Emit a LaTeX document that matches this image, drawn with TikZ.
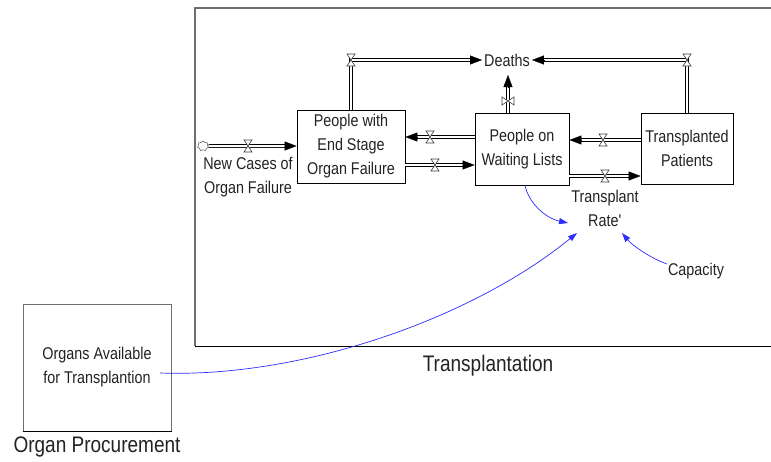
\documentclass[tikz,border=0pt]{standalone}
\usepackage{fontspec}
\setmainfont{Liberation Sans}[FakeStretch=0.845]
\usetikzlibrary{arrows.meta,shapes.symbols,calc}
\definecolor{txt}{RGB}{35,35,35}
\definecolor{lnk}{RGB}{45,45,255}
\definecolor{framec}{RGB}{110,110,110}
\begin{document}
\begin{tikzpicture}[x=1pt,y=-1pt,
  every node/.style={font=\fontsize{17}{24}\selectfont, text=txt, inner sep=0pt, align=center},
  stock/.style={draw=black, line width=0.8pt},
  pipe/.style={draw=black, line width=0.8pt, double=white, double distance=2pt, line join=miter},
  flowtip/.style={-{Triangle[length=12pt,width=9pt]}, line width=0.4pt, draw=black},
  link/.style={draw=lnk, line width=0.7pt, -{Triangle[length=9pt,width=6pt]}},
  bigtext/.style={font=\fontsize{22.5}{26}\selectfont},
  valve/.pic={\draw[draw=gray!50!black, fill=white, line width=0.6pt] (-4,-6) -- (4,-6) -- (-4,6) -- (4,6) -- cycle;}
]
\useasboundingbox (0,0) rectangle (771,461);
\fill[white] (0,0) rectangle (771,461);
% sector frame
\draw[framec, line width=1.2pt] (775,8) -- (195,8) -- (195,346);
\draw[black, line width=1pt] (195,346) -- (775,346);

% stocks and labels
\node[stock, minimum width=108pt, minimum height=73pt] (pw) at (351,146.5) {People with\\End Stage\\Organ Failure};
\node[stock, minimum width=94pt, minimum height=72pt] (wl) at (522,149) {People on\\Waiting Lists};
\node[stock, minimum width=92pt, minimum height=71pt] (tp) at (687,148.5) {Transplanted\\Patients};
\node[inner sep=2pt] (de) at (507,60) {Deaths};
\node[cloud, cloud puffs=7, draw=gray!60!black, fill=white, minimum width=11pt, minimum height=10pt, line width=0.5pt] (cl) at (203,146) {};
\node (nc) at (248,177) {New Cases of\\Organ Failure};
\node (tr) at (605,208.5) {Transplant\\Rate\textquotesingle};
\node (cap) at (696,271) {Capacity};
\node[draw=framec, line width=1pt, minimum width=148pt, minimum height=127pt] (op) at (97,367.5) {Organs Available\\for Transplantion};
\draw[black, line width=1pt] (op.south west) -- (op.south east);
\node[bigtext] (opl) at (97,447) {Organ Procurement};
\node[bigtext] (tpl) at (488,366) {Transplantation};

% flows
% F1 new cases
\coordinate (f1b) at (285,146);
\draw[pipe] (cl.east) -- (f1b);
\draw[flowtip] (f1b) -- (pw.west |- f1b);
\pic at (248,146) {valve};
% F2 pw -> deaths
\coordinate (f2b) at (471,60);
\draw[pipe] (pw.north) |- (f2b);
\draw[flowtip] (f2b) -- (de.west);
\pic at (351,60) {valve};
% F3 wl -> pw
\coordinate (f3b) at (417,137);
\draw[pipe] (wl.west |- f3b) -- (f3b);
\draw[flowtip] (f3b) -- (pw.east |- f3b);
\pic at (430,137) {valve};
% F4 pw -> wl
\coordinate (f4b) at (463,165);
\draw[pipe] (pw.east |- f4b) -- (f4b);
\draw[flowtip] (f4b) -- (wl.west |- f4b);
\pic at (435,165) {valve};
% F5 wl -> deaths
\coordinate (f5b) at (508,87);
\coordinate (f5t) at (508,75);
\draw[pipe] (wl.north -| f5b) -- (f5b);
\draw[flowtip] (f5b) -- (f5t);
\pic[rotate=90] at (508,101) {valve};
% F6 tp -> wl
\coordinate (f6b) at (581,140);
\draw[pipe] (tp.west |- f6b) -- (f6b);
\draw[flowtip] (f6b) -- (wl.east |- f6b);
\pic at (603,140) {valve};
% F7 wl -> tp
\coordinate (f7b) at (629,176);
\draw[pipe] (wl.east |- f7b) -- (f7b);
\draw[flowtip] (f7b) -- (tp.west |- f7b);
\pic at (605,176) {valve};
% F8 tp -> deaths
\coordinate (f8b) at (544,60);
\draw[pipe] (tp.north) |- (f8b);
\draw[flowtip] (f8b) -- (de.east);
\pic at (687,60) {valve};

% information links
\coordinate (l1s) at (525,185);
\coordinate (l1e) at (568,223);
\draw[link] (l1s) .. controls (528,202) and (545,218) .. (l1e);
\coordinate (l2s) at (160,373);
\coordinate (l2e) at (577,233);
\draw[link] (l2s) .. controls (300,378) and (470,320) .. (l2e);
\coordinate (l3s) at (667,264);
\coordinate (l3e) at (622,233);
\draw[link] (l3s) .. controls (650,258) and (632,245) .. (l3e);
\end{tikzpicture}
\end{document}
